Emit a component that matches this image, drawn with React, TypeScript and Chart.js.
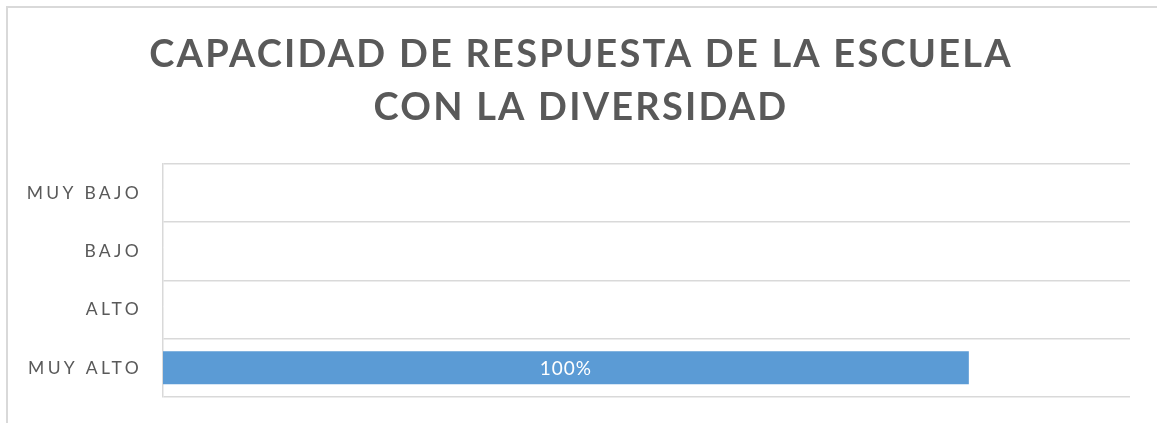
import React, { useEffect, useRef } from "react";
import { Chart, registerables } from "chart.js";

Chart.register(...registerables);

const titleLines = ["CAPACIDAD DE RESPUESTA DE LA ESCUELA", "CON LA DIVERSIDAD"];
const categories = ["MUY BAJO", "BAJO", "ALTO", "MUY ALTO"];
const values = [0, 0, 0, 100];
const valueLabels = ["0%", "0%", "0%", "100%"];
const axisMax = 120;

const FONT = "Lato, 'Open Sans', sans-serif";

export default function App() {
  const ref = useRef<HTMLCanvasElement | null>(null);

  useEffect(() => {
    document.body.style.margin = "0";
    const canvas = ref.current;
    if (!canvas) return;
    const ctx2d = canvas.getContext("2d") as any;
    const origFill = ctx2d.fillText;
    // letter spacing per text kind (title wide, axis labels wider, value labels slight)
    ctx2d.fillText = function (text: string, x: number, y: number, mw?: number) {
      const f: string = this.font || "";
      if (f.includes("bold")) this.letterSpacing = "2.2px";
      else if (f.startsWith("19px")) this.letterSpacing = "1px";
      else this.letterSpacing = "3.3px";
      return mw === undefined ? origFill.call(this, text, x, y) : origFill.call(this, text, x, y, mw);
    };

    const helperPlugin = {
      id: "helper",
      afterLayout(chart: any) {
        if (chart.titleBlock) {
          chart.titleBlock.left = 32;
          chart.titleBlock.right = chart.chartArea.right;
        }
      },
      afterDatasetsDraw(chart: any) {
        const ctx = chart.ctx;
        ctx.save();
        ctx.font = `19px ${FONT}`;
        ctx.fillStyle = "#ffffff";
        ctx.textAlign = "center";
        ctx.textBaseline = "middle";
        const meta = chart.getDatasetMeta(0);
        meta.data.forEach((bar: any, i: number) => {
          const x = (bar.base + bar.x) / 2;
          const cx = values[i] === 0 ? bar.base + 2 : x;
          ctx.fillText(valueLabels[i], cx, bar.y + 1);
        });
        ctx.restore();
      },
    };

    const chart = new Chart(canvas, {
      type: "bar",
      data: {
        labels: categories,
        datasets: [
          {
            data: values,
            backgroundColor: "#5B9BD5",
            borderWidth: 0,
            barPercentage: 0.566,
            categoryPercentage: 1,
          },
        ],
      },
      options: {
        indexAxis: "y",
        animation: false,
        responsive: false,
        maintainAspectRatio: false,
        layout: { padding: { left: 0, right: 27, top: 0, bottom: 26 } },
        plugins: {
          legend: { display: false },
          tooltip: { enabled: false },
          title: {
            display: true,
            text: titleLines,
            color: "#595959",
            font: { family: FONT, size: 38, weight: "bold", lineHeight: 1.38 },
            padding: { top: 29, bottom: 30 },
          },
        },
        scales: {
          x: {
            display: false,
            min: 0,
            max: axisMax,
          },
          y: {
            afterFit(scale: any) {
              scale.width = 163;
              scale.paddingTop = 0;
              scale.paddingBottom = 0;
            },
            grid: {
              color: "#d9d9d9",
              lineWidth: 1.5,
              drawTicks: false,
              offset: true,
            },
            border: { color: "#d9d9d9", width: 1.5 },
            ticks: {
              color: "#595959",
              padding: 21,
              font: { family: FONT, size: 17.5 },
            },
          },
        },
      },
      plugins: [helperPlugin],
    });

    return () => {
      chart.destroy();
      ctx2d.fillText = origFill;
    };
  }, []);

  return (
    <div style={{ position: "relative", width: 1157, height: 423, overflow: "hidden", background: "#fff" }}>
      <div
        style={{
          position: "absolute",
          left: 6,
          top: 6,
          width: 1200,
          height: 500,
          borderLeft: "2px solid #d9d9d9",
          borderTop: "2px solid #d9d9d9",
        }}
      />
      <canvas ref={ref} width={1157} height={423} style={{ position: "absolute", left: 0, top: 0 }} />
    </div>
  );
}
